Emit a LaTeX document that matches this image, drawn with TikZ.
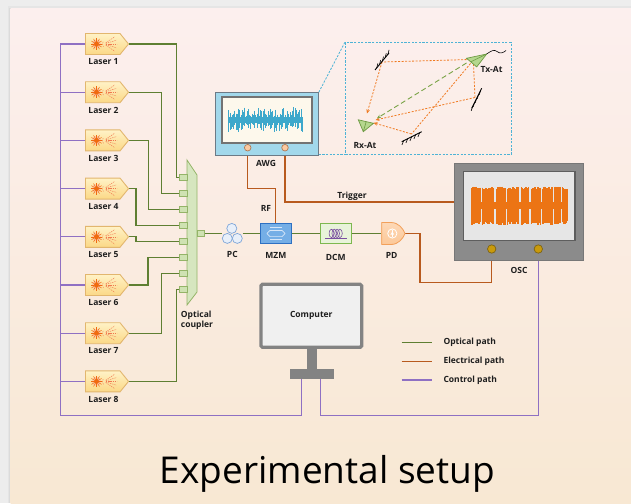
\documentclass[tikz,border=0pt]{standalone}
\usepackage{fontspec}
\setmainfont{Open Sans}
\usetikzlibrary{arrows.meta,calc}
\pgfdeclarelayer{back}
\pgfdeclarelayer{wires}
\pgfsetlayers{back,wires,main}

\definecolor{optic}{HTML}{5E7F32}
\definecolor{elec}{HTML}{B85A1E}
\definecolor{ctrl}{HTML}{8F70C3}
\definecolor{cardtop}{HTML}{FCEFEE}
\definecolor{cardbot}{HTML}{F8E8D3}
\definecolor{outer}{HTML}{EDEDED}
\definecolor{laserA}{HTML}{FFF2C6}
\definecolor{laserB}{HTML}{FBD886}
\definecolor{laserE}{HTML}{E2B66E}
\definecolor{sunc}{HTML}{F06A10}
\definecolor{fanc}{HTML}{F07850}
\definecolor{cplF}{HTML}{D6E6BF}
\definecolor{cplE}{HTML}{94B468}
\definecolor{portF}{HTML}{CFE2B2}
\definecolor{pcF}{HTML}{E8EFF9}
\definecolor{pcE}{HTML}{7EA6D9}
\definecolor{mzmF}{HTML}{74AEE6}
\definecolor{mzmE}{HTML}{2D70C2}
\definecolor{mzmI}{HTML}{D6E6F8}
\definecolor{dcmF}{HTML}{E8F3DA}
\definecolor{dcmE}{HTML}{7DB84F}
\definecolor{coil}{HTML}{7A4FA0}
\definecolor{pdF}{HTML}{FCC898}
\definecolor{pdE}{HTML}{F2A05A}
\definecolor{awgF}{HTML}{A2D8EB}
\definecolor{awgE}{HTML}{6C7A86}
\definecolor{awgS}{HTML}{FDF8EC}
\definecolor{awgW}{HTML}{3DA8CB}
\definecolor{awgKF}{HTML}{FBC9A0}
\definecolor{awgKE}{HTML}{B07A55}
\definecolor{scrE}{HTML}{737373}
\definecolor{oscF}{HTML}{8B8B8B}
\definecolor{oscE}{HTML}{777777}
\definecolor{oscS}{HTML}{E6E6E6}
\definecolor{oscSE}{HTML}{5E5E5E}
\definecolor{oscW}{HTML}{EC7414}
\definecolor{oscKF}{HTML}{C99A0C}
\definecolor{oscKE}{HTML}{7E6414}
\definecolor{insetc}{HTML}{4DB3D6}
\definecolor{rayc}{HTML}{F07A22}
\definecolor{losc}{HTML}{7AA447}
\definecolor{hornF}{HTML}{B5D78E}
\definecolor{hornE}{HTML}{6E9A44}
\definecolor{mon}{HTML}{838383}
\definecolor{monF}{HTML}{F0F0F0}
\definecolor{txt}{HTML}{1E1E1E}

\begin{document}
\begin{tikzpicture}[x=1pt,y=-1pt,
  optpath/.style={draw=optic,line width=1.1pt},
  elecpath/.style={draw=elec,line width=1.1pt},
  ctlpath/.style={draw=ctrl,line width=1.1pt},
  lbl/.style={font=\fontsize{8.5}{10}\selectfont\bfseries,text=txt,inner sep=0pt},
  port/.style={draw=cplE,fill=portF,minimum width=7.5pt,minimum height=6pt,inner sep=0pt,line width=0.7pt},
  knob/.style={circle,inner sep=0pt,line width=0.7pt},
  blockbox/.style={minimum width=31.7pt,minimum height=20.7pt,inner sep=0pt,line width=0.9pt},
  ray/.style={draw=rayc,line width=0.8pt,dash pattern=on 2pt off 1.5pt},
  los/.style={draw=losc,line width=0.9pt,dash pattern=on 5pt off 3pt},
  insetln/.style={draw=insetc,line width=0.8pt,dash pattern=on 2.2pt off 1.4pt},
  mirror/.style={draw=black,line width=0.9pt},
  tip/.style={-{Stealth[length=4pt,width=3.5pt]}}]
\useasboundingbox (0,0) rectangle (631,503);

% card and its shadow
\begin{pgfonlayer}{back}
\fill[outer] (0,0) rectangle (631,503);
\fill[black!10] (7.5,6.5) rectangle (631,503);
\fill[black!14] (9,8) rectangle (631,503);
\path[top color=cardtop,bottom color=cardbot] (10.5,9) rectangle (631,503);
\end{pgfonlayer}

% ---------- lasers ----------
\foreach \i in {1,...,8}{
  \pgfmathsetmacro{\ly}{44+48.2*(\i-1)}
  \path[top color=laserA,bottom color=laserB,draw=laserE,line width=0.9pt]
    (85.5,\ly-10.5) -- (120,\ly-10.5) -- (128.5,\ly) -- (120,\ly+10.5) -- (85.5,\ly+10.5) -- cycle;
  \fill[sunc!35] (96.5,\ly) circle (4.6);
  \foreach \a in {0,30,...,330}
    \draw[sunc,line width=0.5pt] (96.5,\ly) ++(\a:2.3) -- ++(\a:3.6);
  \fill[sunc] (96.5,\ly) circle (2.5);
  \draw[fanc,line width=0.45pt,dash pattern=on 1.2pt off 0.9pt] (108,\ly) ++(148:5.5) arc[start angle=148,end angle=212,radius=5.5];
  \foreach \a in {-34,-17,0,17,34}
    \draw[fanc,line width=0.45pt,dash pattern=on 1.3pt off 0.9pt] (104,\ly) ++(\a:2) -- ++(\a:11);
  \coordinate (las\i) at (128.5,\ly);
  \coordinate (lin\i) at (85.5,\ly);
  \node[lbl] (lab\i) at (103.5,\ly+17.8) {Laser \i};
}

% ---------- optical coupler ----------
\path[fill=cplF,draw=cplE,line width=0.8pt] (187,160) -- (197,175) -- (197,292) -- (187,305) -- cycle;
\foreach \i in {1,...,8}
  \node[port] (cin\i) at (183.5,177.7+16*\i-16) {};
\node[port] (cout) at (201,233.5) {};
\node[lbl,align=left] (cpl) at (197,320) {Optical\\coupler};

% ---------- PC ----------
\node[minimum width=20pt,minimum height=20pt,inner sep=0pt] (pc) at (232.3,233.5) {};
\foreach \c in {(231.8,228.4),(227.3,238.4),(237.3,238.4)}
  \draw[pcE,fill=pcF,line width=0.7pt] \c circle (5);
\node[lbl] (pcl) at (232.3,254.6) {PC};

% ---------- MZM ----------
\node[blockbox,draw=mzmE,fill=mzmF] (mzm) at (275.8,233.5) {};
\draw[mzmI,line width=0.7pt] (267,233.5) -- (270,230.4) -- (282,230.4) -- (285,233.5) -- (282,236.6) -- (270,236.6) -- cycle;
\draw[mzmI,line width=0.7pt] (270,227.8) -- (282,227.8) (270,239.2) -- (282,239.2);
\node[lbl] (mzml) at (275.8,255.4) {MZM};

% ---------- DCM ----------
\node[blockbox,draw=dcmE,fill=dcmF] (dcm) at (335.8,233.5) {};
\foreach \cx in {331.5,334.3,337.1,339.9}
  \draw[coil,line width=0.6pt] (\cx,233.4) ellipse (2.4 and 4.2);
\draw[coil,line width=0.6pt] (325,238.6) -- (347,238.6);
\node[lbl] (dcml) at (335.8,257) {DCM};

% ---------- PD ----------
\node[minimum width=23.3pt,minimum height=22pt,inner sep=0pt] (pd) at (393.3,233.5) {};
\path[top color=pdF!70!white,bottom color=pdF,draw=pdE,line width=0.8pt]
  (381.7,222.5) -- (391,222.5) .. controls (398.5,222.5) and (403,228.5) .. (405,233.5)
  .. controls (403,238.5) and (398.5,244.5) .. (391,244.5) -- (381.7,244.5) -- cycle;
\draw[white,line width=0.8pt] (392.3,233.5) circle (4.6);
\draw[white,line width=0.6pt] (392.3,229.6) -- (392.3,237.4);
\fill[white] (390.4,234.6) -- (394.2,234.6) -- (392.3,231.6) -- cycle;
\node[lbl] (pdl) at (391.7,255.6) {PD};

% ---------- AWG ----------
\node[draw=awgE,fill=awgF,line width=1.1pt,minimum width=102.6pt,minimum height=62.6pt,inner sep=0pt] (awg) at (267,124) {};
\node[draw=scrE,fill=awgS,line width=1.6pt,minimum width=90pt,minimum height=46pt,inner sep=0pt] (awgscr) at (266.7,119.7) {};
\pgfmathsetseed{11}
\fill[awgW] (228.5,117) rectangle (302.5,123.4);
\foreach \k in {0,...,60}{
  \pgfmathsetmacro{\wx}{228.8+\k*1.225}
  \pgfmathsetmacro{\up}{3+10*rnd}
  \pgfmathsetmacro{\dn}{3+10*rnd}
  \draw[awgW,line width=0.9pt] (\wx,120-\up) -- (\wx,120+\dn);
}
\node[knob,fill=awgKF,draw=awgKE,minimum size=6.6pt] (awgK1) at (247.7,147.7) {};
\node[knob,fill=awgKF,draw=awgKE,minimum size=6.6pt] (awgK2) at (285,147.7) {};
\node[lbl] (awgl) at (266,163.3) {AWG};

% ---------- OSC ----------
\node[draw=oscE,fill=oscF,line width=1pt,minimum width=129.5pt,minimum height=97.4pt,inner sep=0pt] (osc) at (519.2,212) {};
\node[draw=oscSE,fill=oscS,line width=1.4pt,minimum width=111.7pt,minimum height=69pt,inner sep=0pt] (oscscr) at (519.2,206.2) {};
\pgfmathsetseed{5}
\foreach \k in {0,...,95}{
  \pgfmathsetmacro{\wx}{472+\k}
  \pgfmathsetmacro{\tp}{186.5+3.5*rnd}
  \pgfmathsetmacro{\bt}{221+4*rnd}
  \draw[oscW,line width=1.1pt] (\wx,\tp) -- (\wx,\bt);
}
\foreach \g in {481.7,495,506.7,520,530,541.7,553.3,561.7}
  \draw[oscS,line width=1.1pt] (\g,185) -- (\g,227);
\fill[oscW] (470.5,201.8) rectangle (568,209.3);
\node[knob,fill=oscKF,draw=oscKE,minimum size=8.4pt] (oscK1) at (491.7,249) {};
\node[knob,fill=oscKF,draw=oscKE,minimum size=8.4pt] (oscK2) at (538.3,249) {};
\node[lbl] (oscl) at (519,270.7) {OSC};

% ---------- computer ----------
\node[draw=mon,fill=monF,line width=3.3pt,rounded corners=1.5pt,minimum width=100.7pt,minimum height=63pt,inner sep=0pt,
      font=\fontsize{8.5}{10}\selectfont\bfseries,text=txt] (comp) at (311.3,315.8) {Computer};
\fill[mon] (307.3,348) rectangle (316.7,369.5);
\node[fill=mon,minimum width=44pt,minimum height=10pt,inner sep=0pt] (base) at (312,374) {};
\coordinate (pcL) at (301.7,374);
\coordinate (pcR) at (320.7,374);

% ---------- antenna inset ----------
\node[insetln,minimum width=165.7pt,minimum height=111.5pt,inner sep=0pt] (inset) at (428.2,98.3) {};
\draw[insetln] (awg.north east) -- (inset.north west);
\draw[insetln] (awg.east |- inset.south) -- (inset.south west);

\coordinate (m1) at (382,62);
\coordinate (m2) at (475,97.5);
\coordinate (m3) at (411.5,134);
\coordinate (txo) at (470,59.5);
\coordinate (rxi) at (374,121.5);
\draw[ray] (txo) -- (m1);
\draw[ray,tip] (m1) -- (367,113.5);
\draw[ray] (473.5,64) -- (m2);
\draw[ray,tip] (m2) -- (375.5,120);
\draw[ray] (470.5,63.5) -- (m3);
\draw[ray,tip] (m3) -- (373.5,122.8);
\draw[los,tip] (466.5,63) -- (377,118.3);

% mirrors
\draw[mirror] (375,70) -- (389,53);
\foreach \t in {0.12,0.32,0.52,0.72,0.92}
  \draw[black,line width=0.6pt] ($(375,70)!\t!(389,53)$) -- ++(1.2,-4.5);
\draw[mirror] (471.7,108.3) -- (481.7,88.3);
\foreach \t in {0.1,0.3,0.5,0.7,0.9}
  \draw[black,line width=0.6pt] ($(471.7,108.3)!\t!(481.7,88.3)$) -- ++(-1.5,4.5);
\draw[mirror] (401.7,141.7) -- (421.7,131.7);
\foreach \t in {0.1,0.3,0.5,0.7,0.9}
  \draw[black,line width=0.6pt] ($(401.7,141.7)!\t!(421.7,131.7)$) -- ++(-1.8,4.2);

% horn antennas
\path[fill=hornF,draw=hornE,line width=0.7pt] (358.3,119.8) -- (373.5,123.3) -- (363.3,131.7) -- cycle;
\draw[hornE,line width=0.6pt] (363.3,131.7) -- (366.2,121.6);
\path[fill=hornF,draw=hornE,line width=0.7pt] (466.5,58.3) -- (476.7,66.9) -- (486.7,54) -- cycle;
\draw[hornE,line width=0.6pt] (486.7,54) -- (471.2,61.6);
\draw[black,line width=0.6pt] (486.7,54) .. controls (491,51) and (494,49) .. (497,51.5)
  .. controls (500,54) and (503,53) .. (506,50.5);
\node[lbl] (txl) at (491.5,69.2) {Tx-At};
\node[lbl] (rxl) at (365,145) {Rx-At};

% ---------- connectors ----------
\begin{pgfonlayer}{wires}
  % control bus
  \coordinate (bus) at (60.5,44);
  \coordinate (busB) at (60.5,415.5);
  \draw[ctlpath] (lin1) -- (bus) -- (busB) -| (pcL);
  \foreach \i in {2,...,8}
    \draw[ctlpath] (lin\i) -- (lin\i -| bus);
  \draw[ctlpath] (pcR) |- (oscK2 |- busB) -- (oscK2 |- osc.south);
  % lasers into the coupler
  \foreach \i/\xb in {1/176.3,2/161.4,3/148.9,4/136,5/136,6/148,7/161.4,8/176.3}{
    \coordinate (v\i) at (\xb,0);
    \draw[optpath] (las\i) -| (v\i |- cin\i.west) -- (cin\i.west);
  }
  % optical chain
  \draw[optpath] (cout) -- (pc) -- (mzm) -- (dcm) -- (pd);
  % electrical
  \coordinate (rfb) at (275.8,188.7);
  \coordinate (trg) at (454.7,202);
  \coordinate (pdb) at (420,282.3);
  \draw[elecpath] (awgK1) |- (rfb) -- (mzm);
  \draw[elecpath] (awgK2) |- (trg);
  \draw[elecpath] (pd) -| (pdb) -| (oscK1);
\end{pgfonlayer}
\node[lbl] (rfl) at (266,208.3) {RF};
\node[lbl] (trgl) at (352,196) {Trigger};

% ---------- legend ----------
\coordinate (lg1a) at (401.7,342.3); \coordinate (lg1b) at (431.7,342.3);
\coordinate (lg2a) at (401.7,361.7); \coordinate (lg2b) at (431.7,361.7);
\coordinate (lg3a) at (401.7,380);   \coordinate (lg3b) at (431.7,380);
\draw[optpath] (lg1a) -- (lg1b);
\draw[elecpath] (lg2a) -- (lg2b);
\draw[ctlpath] (lg3a) -- (lg3b);
\node[lbl,anchor=west] (lgt1) at (443.3,342.3) {Optical path};
\node[lbl,anchor=west] (lgt2) at (443.3,361.7) {Electrical path};
\node[lbl,anchor=west] (lgt3) at (443.3,380) {Control path};

% ---------- title ----------
\node[font=\fontsize{37}{44}\selectfont,anchor=base,text=black,inner sep=0pt] (title) at (327.5,483) {Experimental setup};
\end{tikzpicture}
\end{document}
